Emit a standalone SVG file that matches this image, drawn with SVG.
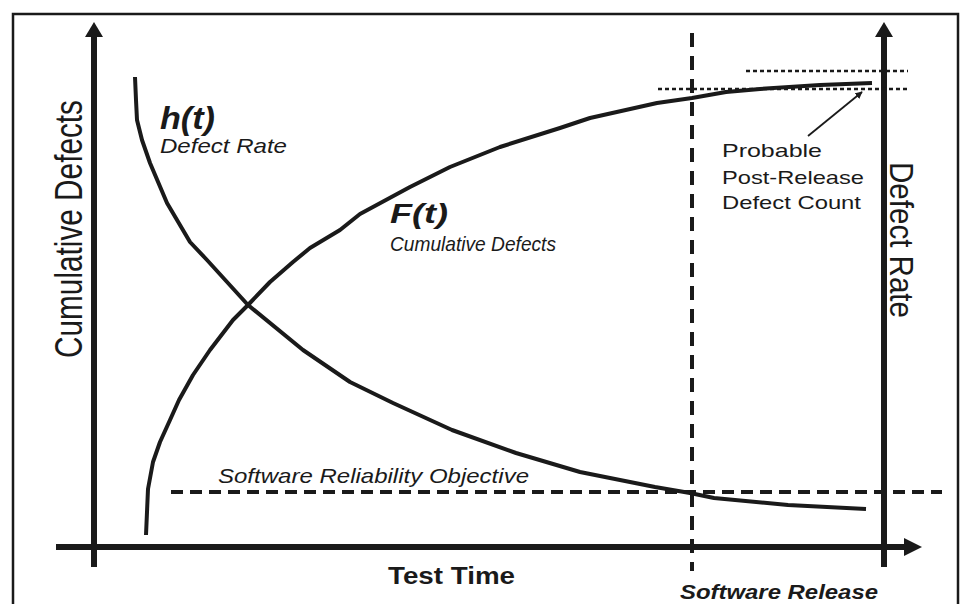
<svg xmlns="http://www.w3.org/2000/svg" width="962" height="604" viewBox="0 0 962 604">
<style>
text{font-family:"Liberation Sans",Arial,sans-serif;fill:#1a1a1a}
.it{font-style:italic}
.b{font-weight:bold}
.curve{fill:none;stroke:#1a1a1a;stroke-width:4;stroke-linejoin:round;stroke-linecap:butt}
.axis{stroke:#1a1a1a;stroke-width:6}
.dash{stroke:#1a1a1a;stroke-width:4;fill:none}
.dot{stroke:#1a1a1a;stroke-width:2.5;stroke-dasharray:4 3;fill:none}
</style>
<defs>
<marker id="ah" viewBox="0 0 10 10" refX="9" refY="5" markerWidth="4" markerHeight="4" orient="auto">
<path d="M0,0 L10,5 L0,10 z" fill="#1a1a1a"/>
</marker>
</defs>
<rect x="0" y="0" width="962" height="604" fill="#fff"/>
<rect x="13" y="14" width="945" height="620" fill="none" stroke="#1a1a1a" stroke-width="2.5"/>

<g id="axes">
<line class="axis" x1="94" y1="36" x2="94" y2="567"/>
<polygon points="94,22 85,37 103,37" fill="#1a1a1a"/>
<line class="axis" x1="884" y1="36" x2="884" y2="567"/>
<polygon points="884,22 875,37 893,37" fill="#1a1a1a"/>
<line class="axis" x1="56" y1="547" x2="906" y2="547"/>
<polygon points="922,547 904,538 904,556" fill="#1a1a1a"/>
</g>

<g id="connectors">
<line class="dash" x1="692" y1="33" x2="692" y2="571" stroke-dasharray="14 9"/>
<line class="dash" x1="171" y1="492" x2="942" y2="492" stroke-dasharray="12 7"/>
<line class="dot" x1="746" y1="71" x2="908" y2="71"/>
<line class="dot" x1="658" y1="89" x2="910" y2="89"/>
<line x1="808" y1="136" x2="862" y2="92" stroke="#1a1a1a" stroke-width="1.8" marker-end="url(#ah)"/>
</g>

<g id="F-curve">
<polyline class="curve" points="146,535 148,489 153,462 160,442 170,420 179,400 193,375 210,350 233,320 248,305 270,282 293,262 310,248 340,230 360,214 410,187 450,167 500,147 560,128 590,118 657,103 692,98 726,92 760,89 820,85 872,83"/>
</g>
<g id="h-curve">
<polyline class="curve" points="135,77 136,100 137,120 142,140 150,163 167,203 190,242 207,260 248,305 303,350 350,382 393,403 452,430 516,453 580,472 655,487 690,493 714,498 788,505 866,509"/>
</g>

<g id="label-ht">
<text class="b it" x="160" y="129" font-size="31" textLength="55" lengthAdjust="spacingAndGlyphs">h(t)</text>
<text class="it" x="160" y="153" font-size="21" textLength="127" lengthAdjust="spacingAndGlyphs">Defect Rate</text>
</g>
<g id="label-Ft">
<text class="b it" x="390" y="223" font-size="28" textLength="58" lengthAdjust="spacingAndGlyphs">F(t)</text>
<text class="it" x="390" y="251" font-size="21" textLength="166" lengthAdjust="spacingAndGlyphs">Cumulative Defects</text>
</g>
<g id="label-objective">
<text class="it" x="218" y="483" font-size="21" textLength="311" lengthAdjust="spacingAndGlyphs">Software Reliability Objective</text>
</g>
<g id="label-probable">
<text x="722" y="157" font-size="19" textLength="100" lengthAdjust="spacingAndGlyphs">Probable</text>
<text x="722" y="184" font-size="19" textLength="142" lengthAdjust="spacingAndGlyphs">Post-Release</text>
<text x="722" y="209" font-size="19" textLength="139" lengthAdjust="spacingAndGlyphs">Defect Count</text>
</g>
<g id="label-testtime">
<text class="b" x="388" y="584" font-size="23" textLength="127" lengthAdjust="spacingAndGlyphs">Test Time</text>
</g>
<g id="label-release">
<text class="b it" x="680" y="599" font-size="21" textLength="198" lengthAdjust="spacingAndGlyphs">Software Release</text>
</g>
<g id="label-yleft">
<text transform="translate(82,358) rotate(-90) scale(1,1.4)" x="0" y="0" font-size="28" textLength="258" lengthAdjust="spacingAndGlyphs">Cumulative Defects</text>
</g>
<g id="label-yright">
<text transform="translate(890,162) rotate(90) scale(1,1.2)" x="0" y="0" font-size="28" textLength="156" lengthAdjust="spacingAndGlyphs">Defect Rate</text>
</g>
</svg>
